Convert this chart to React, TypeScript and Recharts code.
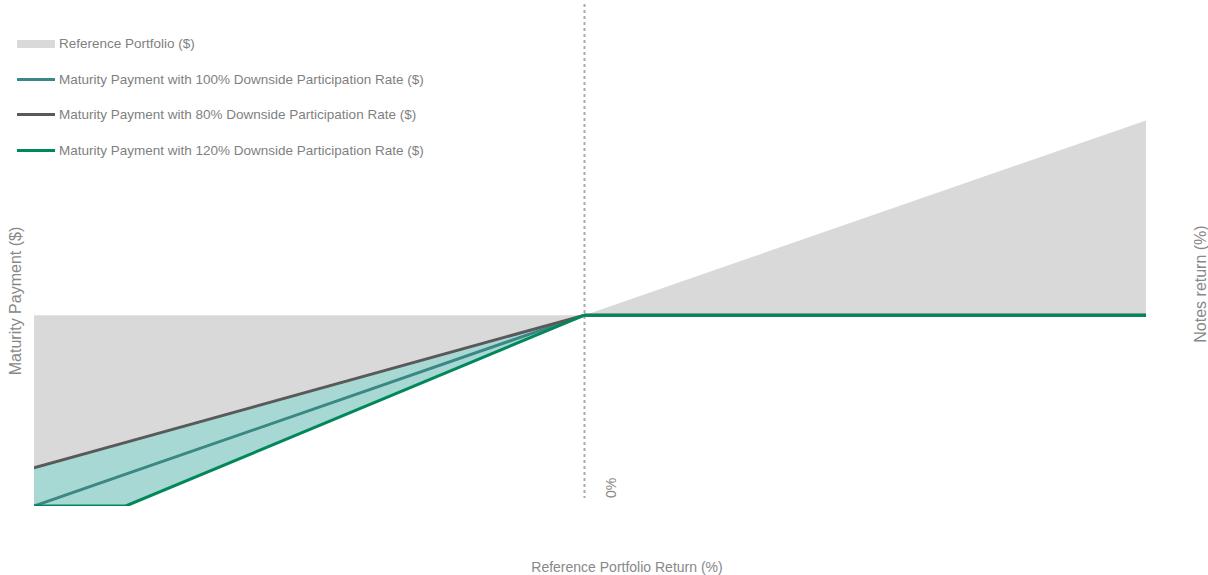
import React from 'react';
import {
  ComposedChart, Area, Line, XAxis, YAxis, ReferenceLine, Legend, Label,
} from 'recharts';

// Reference portfolio return (%)
const returns = [-100, -83.33, 0, 102];
// Reference portfolio value ($)
const referencePortfolio = [0, 16.67, 100, 202];
// Maturity payments ($)
const payment100 = [0, 16.67, 100, 100];
const payment80 = [20, 33.33, 100, 100];
const payment120 = [0, 0, 100, 100];
const baseline = [100, 100, 100, 100];

const xTicks = [0];
const xDomain = [-100, 102];
const yDomainMax = 263;

const data = returns.map((r, i) => ({
  x: r,
  refRange: [referencePortfolio[i], baseline[i]],
  bandRange: [payment120[i], payment80[i]],
  p100: payment100[i],
  p80: payment80[i],
  p120: payment120[i],
}));

const FONT = '"Liberation Sans", Arial, sans-serif';

const legendItems = [
  { name: 'Reference Portfolio ($)', color: '#d9d9d9', type: 'rect' },
  { name: 'Maturity Payment with 100% Downside Participation Rate ($)', color: '#3b8783', type: 'line' },
  { name: 'Maturity Payment with 80% Downside Participation Rate ($)', color: '#595959', type: 'line' },
  { name: 'Maturity Payment with 120% Downside Participation Rate ($)', color: '#00875a', type: 'line' },
];

const LegendContent = () => (
  <div style={{ fontFamily: FONT, fontSize: 13.5, color: '#7f7f7f' }}>
    {legendItems.map((it) => (
      <div key={it.name} style={{ display: 'flex', alignItems: 'center', height: 35.5 }}>
        <div style={{ width: 38, height: it.type === 'rect' ? 8 : 3, background: it.color, marginRight: 4 }} />
        <span>{it.name}</span>
      </div>
    ))}
  </div>
);

const ZeroTick = (props: any) => {
  const { x, payload } = props;
  const cx = x + 27;
  const cy = 488;
  return (
    <text x={cx} y={cy} transform={`rotate(-90, ${cx}, ${cy})`} textAnchor="middle" dominantBaseline="central"
      fontFamily={FONT} fontSize={14} fill="#888">
      {`${payload.value}%`}
    </text>
  );
};

const XLabel = () => (
  <text x={627} y={567} textAnchor="middle" dominantBaseline="central" fontFamily={FONT} fontSize={14} fill="#888">
    Reference Portfolio Return (%)
  </text>
);

const LeftLabel = () => (
  <text x={15} y={301} transform="rotate(-90, 15, 301)" textAnchor="middle" dominantBaseline="central"
    fontFamily={FONT} fontSize={16} fill="#888">
    Maturity Payment ($)
  </text>
);

const RightLabel = () => (
  <text x={1200} y={284} transform="rotate(-90, 1200, 284)" textAnchor="middle" dominantBaseline="central"
    fontFamily={FONT} fontSize={16} fill="#888">
    Notes return (%)
  </text>
);

const DashedZero = (props: any) => {
  const { x1, y1, x2, y2 } = props;
  const top = Math.min(y1, y2);
  const bottom = Math.max(y1, y2) - 8;
  return <line x1={x1} x2={x2} y1={top} y2={bottom} stroke="#aaaaaa" strokeWidth={2} strokeDasharray="3 3" />;
};

export default function App() {
  return (
    <div style={{ position: 'absolute', left: 0, top: 0, width: 1208, height: 575, background: '#fff' }}>
      <ComposedChart width={1208} height={575} data={data} margin={{ top: 4, right: 0, bottom: 0, left: 0 }}>
        <XAxis dataKey="x" type="number" domain={xDomain} allowDataOverflow ticks={xTicks} axisLine={false}
          tickLine={false} height={69} tick={<ZeroTick />} interval={0}>
          <Label content={<XLabel />} />
        </XAxis>
        <YAxis yAxisId="left" width={34} domain={[0, yDomainMax]} allowDataOverflow tick={false} axisLine={false} tickLine={false}>
          <Label content={<LeftLabel />} />
        </YAxis>
        <YAxis yAxisId="right" orientation="right" width={62} domain={[0, yDomainMax]} tick={false} axisLine={false} tickLine={false}>
          <Label content={<RightLabel />} />
        </YAxis>
        <Legend verticalAlign="middle" align="center" layout="vertical" content={<LegendContent />}
          wrapperStyle={{ top: 26, left: 17, width: 500 }} />
        <Area yAxisId="left" type="linear" dataKey="refRange" stroke="none" fill="#d9d9d9" fillOpacity={1}
          isAnimationActive={false} name="Reference Portfolio ($)" />
        <Area yAxisId="left" type="linear" dataKey="bandRange" stroke="none" fill="#a8d8d4" fillOpacity={1}
          isAnimationActive={false} legendType="none" />
        <ReferenceLine yAxisId="left" x={0} shape={<DashedZero />} />
        <Line yAxisId="left" type="linear" dataKey="p100" stroke="#3b8783" strokeWidth={3} dot={false}
          isAnimationActive={false} name="Maturity Payment with 100% Downside Participation Rate ($)" />
        <Line yAxisId="left" type="linear" dataKey="p80" stroke="#595959" strokeWidth={3} dot={false}
          isAnimationActive={false} name="Maturity Payment with 80% Downside Participation Rate ($)" />
        <Line yAxisId="left" type="linear" dataKey="p120" stroke="#00875a" strokeWidth={3} dot={false}
          isAnimationActive={false} name="Maturity Payment with 120% Downside Participation Rate ($)" />
      </ComposedChart>
    </div>
  );
}
